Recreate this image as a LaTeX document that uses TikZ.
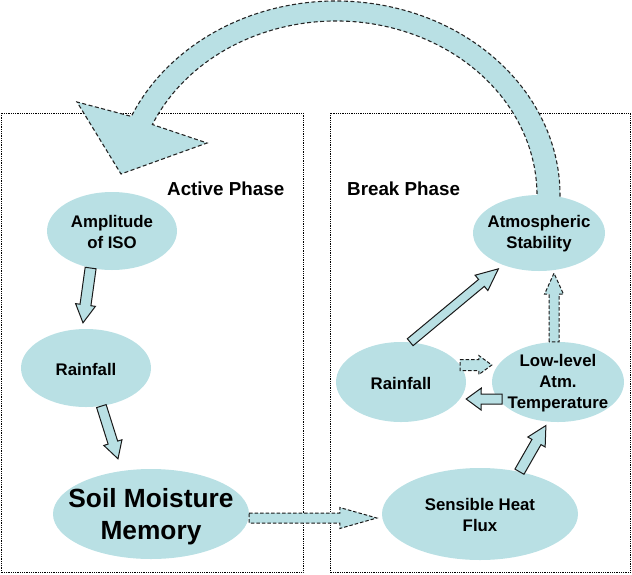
\documentclass[tikz,border=0pt]{standalone}
\usepackage{fontspec}
\setmainfont{Liberation Sans}
\usetikzlibrary{shapes.geometric,calc}
\definecolor{tealfill}{RGB}{185,224,228}
% block arrow: #1 style, #2 from, #3 to, #4 shaft half width, #5 head half width, #6 head length
\newcommand\blockarr[6]{%
  \path ($(#3)!#6!(#2)$) coordinate (bah);
  \draw[#1] ($(#2)!#4!90:(#3)$) -- ($(bah)!#4!-90:(#2)$) -- ($(bah)!#5!-90:(#2)$) -- (#3)
    -- ($(bah)!#5!90:(#2)$) -- ($(bah)!#4!90:(#2)$) -- ($(#2)!#4!-90:(#3)$) -- cycle;
}
\begin{document}
\begin{tikzpicture}[x=1pt,y=-1pt,
  ell/.style={ellipse, fill=tealfill, draw=none, inner sep=0pt},
  lbl/.style={font=\fontsize{16.8}{21}\selectfont\bfseries, align=center, inner sep=0pt},
  biglbl/.style={font=\fontsize{26.3}{32}\selectfont\bfseries, align=center, inner sep=0pt},
  phase/.style={font=\fontsize{18.8}{22}\selectfont\bfseries, inner sep=0pt, anchor=base west},
  solidarr/.style={draw=black!90, fill=tealfill, line width=1pt, line join=miter},
  dasharr/.style={solidarr, dash pattern=on 3.5pt off 2pt},
  bigarr/.style={draw=black!85, fill=tealfill, line width=1.1pt, dash pattern=on 4pt off 2.5pt},
  phasebox/.style={draw=black, line width=0.9pt, dash pattern=on 0.9pt off 0.9pt}]
\useasboundingbox (0,0) rectangle (632,574);

% phase boxes
\draw[phasebox] (1,113) rectangle (303,572.5);
\draw[phasebox] (330,113) rectangle (630,572.5);

% big feedback arrow
\coordinate (C) at (336,195.5);
\draw[bigarr] ($(C)+(8:224 and 194.5)$) arc[start angle=8, end angle=-156, x radius=224, y radius=194.5]
  -- (77,102) -- (121,174) -- (207,143)
  -- ($(C)+(-156:201 and 174.5)$) arc[start angle=-156, end angle=8, x radius=201, y radius=174.5] -- cycle;

% ellipses
\node[ell, minimum width=130, minimum height=78] (amp) at (112,231) {};
\node[ell, minimum width=130, minimum height=78] (rainL) at (86,368) {};
\node[ell, minimum width=196, minimum height=90] (soil) at (151,514) {};
\node[ell, minimum width=196, minimum height=92] (sens) at (480,514) {};
\node[ell, minimum width=132, minimum height=76] (atm) at (539,233) {};
\node[ell, minimum width=130, minimum height=80] (rainR) at (401,382) {};
\node[ell, minimum width=132, minimum height=80] (low) at (558,382) {};

% arrow end points
\coordinate (a1e) at ([xshift=-3pt,yshift=6pt]rainL.north);
\coordinate (a2e) at ([xshift=-33pt,yshift=10pt]soil.north);
\coordinate (a3s) at ([yshift=-4pt]soil.east);
\coordinate (a3e) at ([xshift=-5pt,yshift=-4pt]sens.west);
\coordinate (a4e) at ([yshift=-4pt]low.-107);
\coordinate (a5s) at ([xshift=4pt]low.-164);
\coordinate (a5e) at ([yshift=-17pt]rainR.east);
\coordinate (a6e) at ([yshift=17pt]low.west);
\coordinate (a7e) at ([xshift=-4pt,yshift=-4pt]atm.-139);
\coordinate (a8s) at ([xshift=-4pt]low.north);
\coordinate (a8e) at ([xshift=15pt,yshift=-2pt]atm.south);

% block arrows
\blockarr{solidarr}{amp.-120}{a1e}{5.5pt}{10pt}{18pt}
\blockarr{solidarr}{rainL.-68}{a2e}{5pt}{9.5pt}{17pt}
\blockarr{dasharr}{a3s}{a3e}{5pt}{10.5pt}{37pt}
\blockarr{solidarr}{sens.47}{a4e}{5.2pt}{10pt}{19pt}
\blockarr{solidarr}{a5s}{a5e}{5pt}{11pt}{15pt}
\blockarr{dasharr}{rainR.16}{a6e}{5.5pt}{9.5pt}{13pt}
\blockarr{solidarr}{rainR.77}{a7e}{4.5pt}{10pt}{22pt}
\blockarr{dasharr}{a8s}{a8e}{5pt}{9.5pt}{21pt}

% texts
\node[phase] (actl) at (167,195) {Active Phase};
\node[phase] (brkl) at (347,195) {Break Phase};
\node[lbl] (ampt) at ([yshift=-1pt]amp) {Amplitude\\of ISO};
\node[lbl] (rainLt) at ([yshift=-1pt]rainL) {Rainfall};
\node[biglbl] (soilt) at ([yshift=-3pt]soil) {Soil Moisture\\Memory};
\node[lbl] (senst) at ([yshift=-1pt]sens) {Sensible Heat\\Flux};
\node[lbl] (atmt) at ([yshift=-1pt]atm) {Atmospheric\\Stability};
\node[lbl] (rainRt) at ([yshift=-1pt]rainR) {Rainfall};
\node[lbl] (lowt) at ([yshift=-1.5pt]low) {Low-level\\Atm.\\Temperature};
\end{tikzpicture}
\end{document}
